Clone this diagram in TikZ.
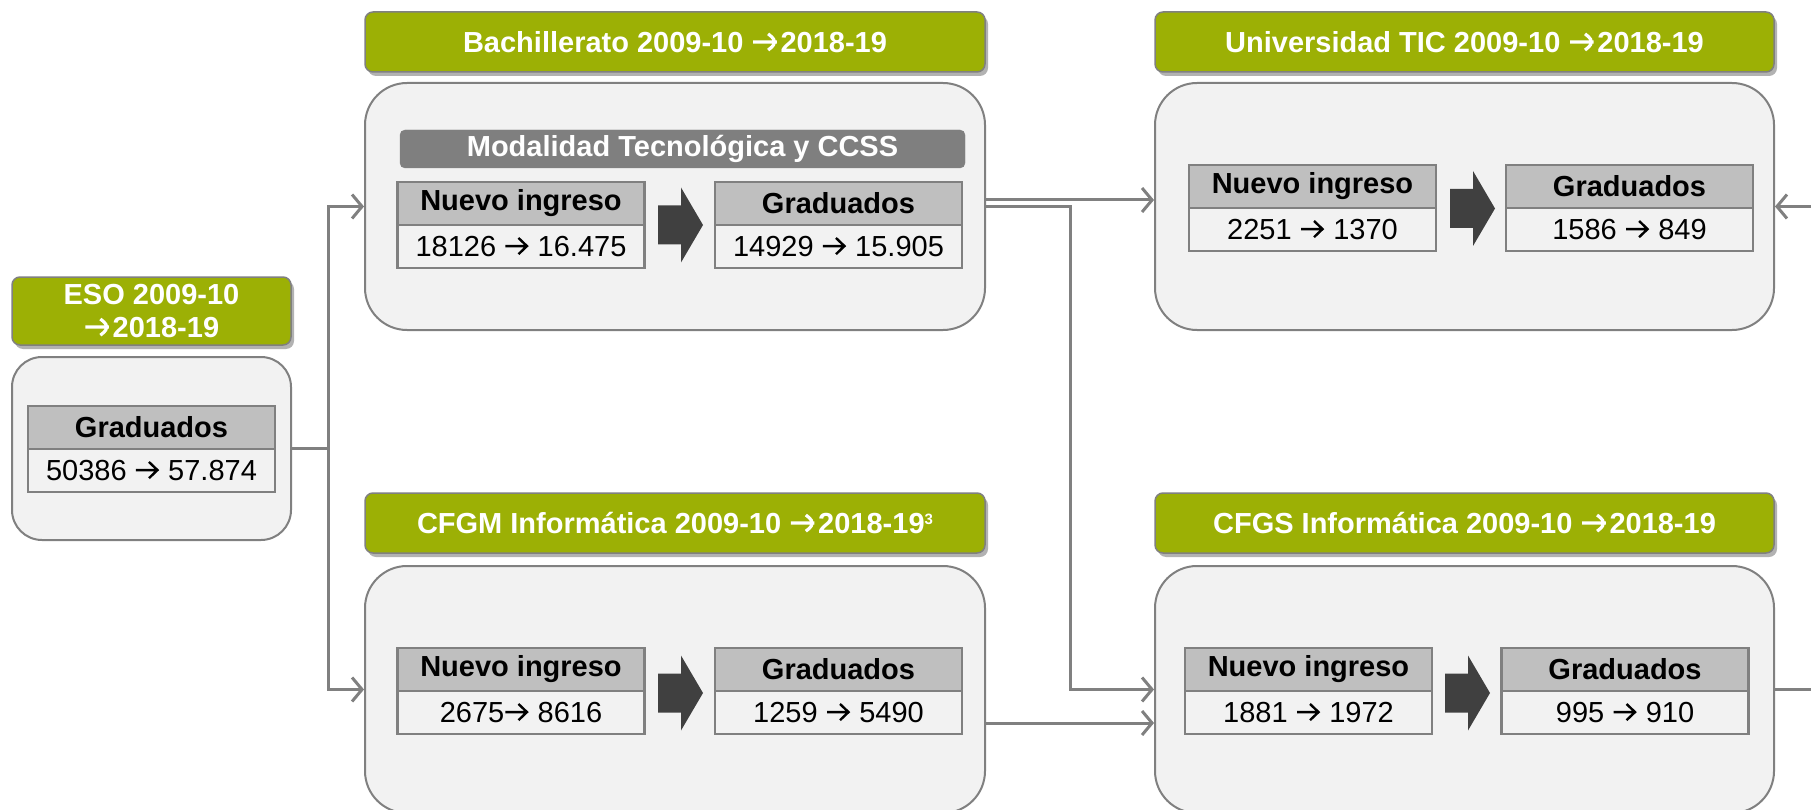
\documentclass[tikz,border=0pt]{standalone}
\usepackage{fontspec}
\setmainfont{Liberation Sans}
\usetikzlibrary{arrows.meta,shadows}
\definecolor{hdrgreen}{RGB}{156,176,5}
\definecolor{bodyfill}{RGB}{242,242,242}
\definecolor{edgegray}{RGB}{128,128,128}
\definecolor{cellgray}{RGB}{191,191,191}
\definecolor{modgray}{RGB}{127,127,127}
\definecolor{arrowdark}{RGB}{64,64,64}
\newcommand\blockarr[2]{\fill[arrowdark] (#1-22,#2-19.5) -- (#1+1,#2-19.5) -- (#1+1,#2-37.5) -- (#1+23,#2) -- (#1+1,#2+37.5) -- (#1+1,#2+19.5) -- (#1-22,#2+19.5) -- cycle;}
% text arrow: #1 colour, #2 stroke width, #3 horizontal scale
\newcommand\txtarr[3]{\tikz[x=#3pt,y=1pt,baseline=0pt]\draw[#1,line width=#2pt,line join=miter,line cap=butt] (0.5,10.4) -- (21,10.4) (13.5,18.5) -- (22,10.4) -- (13.5,2.3);}
\newcommand\ra{\txtarr{black}{2.4}{1}\hspace{1.5pt}}
\newcommand\rh{\txtarr{white}{3.2}{1.15}\hspace{1pt}}
\begin{document}
\begin{tikzpicture}[x=1pt,y=-1pt,
  hdr/.style={draw=edgegray, line width=1.5pt, fill=hdrgreen, rounded corners=8pt, text=white,
    font=\bfseries\fontsize{29}{33}\selectfont, inner sep=0pt, align=center,
    drop shadow={shadow xshift=3pt, shadow yshift=-4pt, fill=black, opacity=0.3}},
  panel/.style={draw=edgegray, line width=2pt, fill=bodyfill, rounded corners=42pt, inner sep=0pt},
  cellhead/.style={draw=edgegray, line width=2.5pt, fill=cellgray, font=\bfseries\fontsize{29}{33}\selectfont,
    minimum width=247pt, minimum height=43pt, inner sep=0pt},
  cellval/.style={draw=edgegray, line width=2.5pt, fill=bodyfill, font=\fontsize{29}{33}\selectfont,
    minimum width=247pt, minimum height=43pt, inner sep=0pt},
  modbar/.style={fill=modgray, draw=modgray, rounded corners=5pt, text=white, inner sep=0pt,
    font=\bfseries\fontsize{29}{33}\selectfont, minimum width=565pt, minimum height=38pt},
  conn/.style={draw=edgegray, line width=3pt},
  arr/.style={-{Straight Barb[length=10pt,width=24pt]}}
]
\useasboundingbox (0,0) rectangle (1811,810);

% ---------- panels ----------
\node[panel, minimum width=620pt, minimum height=247pt] (bachb) at (675,206.5) {};
\node[panel, minimum width=619pt, minimum height=247pt] (univb) at (1464.5,206.5) {};
\node[panel, minimum width=279pt, minimum height=183pt, rounded corners=30pt] (esob) at (151.5,448.5) {};
\node[panel, minimum width=620pt, minimum height=247pt] (cfgmb) at (675,689.5) {};
\node[panel, minimum width=619pt, minimum height=247pt] (cfgsb) at (1464.5,689.5) {};

% ---------- headers ----------
\node[hdr, minimum width=620pt, minimum height=60pt] (bachh) at (675,42) {Bachillerato 2009-10 \rh2018-19};
\node[hdr, minimum width=619pt, minimum height=60pt] (univh) at (1464.5,42) {Universidad TIC 2009-10 \rh2018-19};
\node[hdr, minimum width=279pt, minimum height=68pt] (esoh) at (151.5,311) {ESO 2009-10\\\rh2018-19};
\node[hdr, minimum width=620pt, minimum height=60pt] (cfgmh) at (675,523) {CFGM Informática 2009-10 \rh2018-19\raisebox{9pt}{\fontsize{15}{15}\selectfont 3}};
\node[hdr, minimum width=619pt, minimum height=60pt] (cfgsh) at (1464.5,523) {CFGS Informática 2009-10 \rh2018-19};

% ---------- Bachillerato ----------
\node[modbar] (mod) at (682.5,149) {Modalidad Tecnológica y CCSS};
\node[cellhead] (bni) at (521,203.5) {Nuevo ingreso};
\node[cellval] (bniv) at (521,246.5) {18126 \ra{} 16.475};
\node[cellhead] (bgr) at (838.5,203.5) {Graduados};
\node[cellval] (bgrv) at (838.5,246.5) {14929 \ra{} 15.905};
\blockarr{680}{225}

% ---------- Universidad ----------
\node[cellhead] (uni) at (1312.5,186.5) {Nuevo ingreso};
\node[cellval] (univ) at (1312.5,229.5) {2251 \ra{} 1370};
\node[cellhead] (ugr) at (1629.5,186.5) {Graduados};
\node[cellval] (ugrv) at (1629.5,229.5) {1586 \ra{} 849};
\blockarr{1472}{208.5}

% ---------- ESO ----------
\node[cellhead] (egr) at (151.5,427.5) {Graduados};
\node[cellval] (egrv) at (151.5,470.5) {50386 \ra{} 57.874};

% ---------- CFGM ----------
\node[cellhead] (mni) at (521,669.5) {Nuevo ingreso};
\node[cellval] (mniv) at (521,712.5) {2675\ra{} 8616};
\node[cellhead] (mgr) at (838.5,669.5) {Graduados};
\node[cellval] (mgrv) at (838.5,712.5) {1259 \ra{} 5490};
\blockarr{680}{693}

% ---------- CFGS ----------
\node[cellhead] (sni) at (1308.5,669.5) {Nuevo ingreso};
\node[cellval] (sniv) at (1308.5,712.5) {1881 \ra{} 1972};
\node[cellhead] (sgr) at (1625,669.5) {Graduados};
\node[cellval] (sgrv) at (1625,712.5) {995 \ra{} 910};
\blockarr{1467}{693}

% ---------- connectors ----------
\coordinate (j) at (328,448.5);
\coordinate (c1) at (1070,400);
\coordinate (rb) at (1811,689.5);
\coordinate (rt) at (1811,206.5);
\draw[conn] (esob.east) -- (j);
\draw[conn,arr] (j) |- (bachb.west);
\draw[conn,arr] (j) |- (cfgmb.west);
\draw[conn,arr] ([yshift=6.5pt]bachb.east) -- ([yshift=6.5pt]univb.west);
\draw[conn,arr] (bachb.east) -| (c1) |- (cfgsb.west);
\draw[conn,arr] ([yshift=-33.5pt]cfgmb.east) -- ([yshift=-33.5pt]cfgsb.west);
\draw[conn] (cfgsb.east) -- (rb);
\draw[conn,arr] (rt) -- (univb.east);
\end{tikzpicture}
\end{document}
